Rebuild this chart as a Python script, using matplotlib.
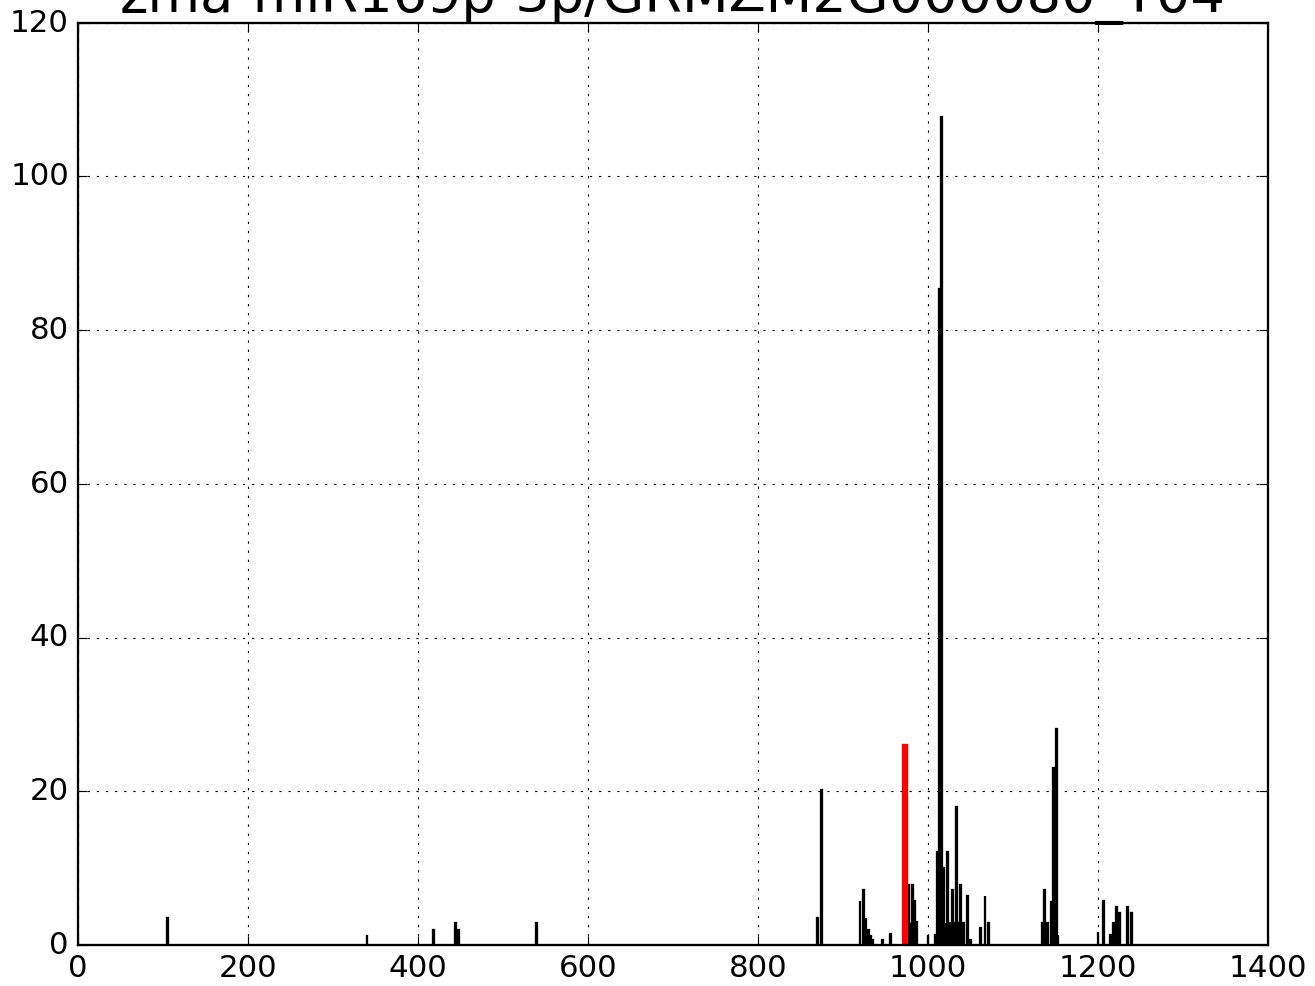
import matplotlib
matplotlib.use('Agg')
from matplotlib import pyplot as plt

plt.style.use('classic')

title = 'zma-miR169p-3p/GRMZM2G000080_T04'

# read positions and read counts
positions = [105, 340, 418, 444, 448, 539, 870, 875, 920, 924, 927, 930, 933,
             935, 946, 956, 977, 979, 982, 984, 986, 1000, 1009, 1011, 1014,
             1016, 1018, 1020, 1023, 1025, 1029, 1031, 1034, 1036, 1038, 1040,
             1042, 1046, 1050, 1062, 1067, 1071, 1135, 1137, 1141, 1145, 1148,
             1151, 1153, 1200, 1206, 1215, 1218, 1222, 1225, 1235, 1239]
counts = [3.5, 1.3, 2.0, 2.8, 2.0, 2.8, 3.5, 20.2, 5.7, 7.2, 3.5, 2.0, 1.3,
          0.65, 0.65, 1.4, 7.8, 2.7, 7.8, 5.7, 3.0, 1.3, 1.3, 12.1, 85.4,
          107.8, 10.0, 2.9, 12.1, 2.9, 7.2, 2.9, 18.0, 2.9, 7.8, 3.0,
          2.9, 6.4, 0.65, 2.2, 6.4, 2.8, 2.8, 7.2, 2.8, 5.6, 23.0,
          28.1, 1.3, 1.7, 5.7, 1.3, 2.9, 5.0, 4.2, 5.0, 4.2]

# cleavage site
site_pos = [973]
site_count = [26]

fig = plt.figure(figsize=(8, 6), dpi=164.375)
ax = fig.add_axes([78 / 1315, 41 / 986, 1190 / 1315, 922 / 986])

ax.bar(positions, counts, width=1, color='k', edgecolor='k', linewidth=1, align='center')
ax.bar(site_pos, site_count, width=4, color='r', edgecolor='r', linewidth=1, align='center')

ax.set_xlim(0, 1400)
ax.set_ylim(0, 120)
ax.grid(True)
ax.tick_params(labelsize=13.5)
ax.set_title(title, fontsize=23.7, pad=5)

fig.savefig('out.png', dpi=164.375)
